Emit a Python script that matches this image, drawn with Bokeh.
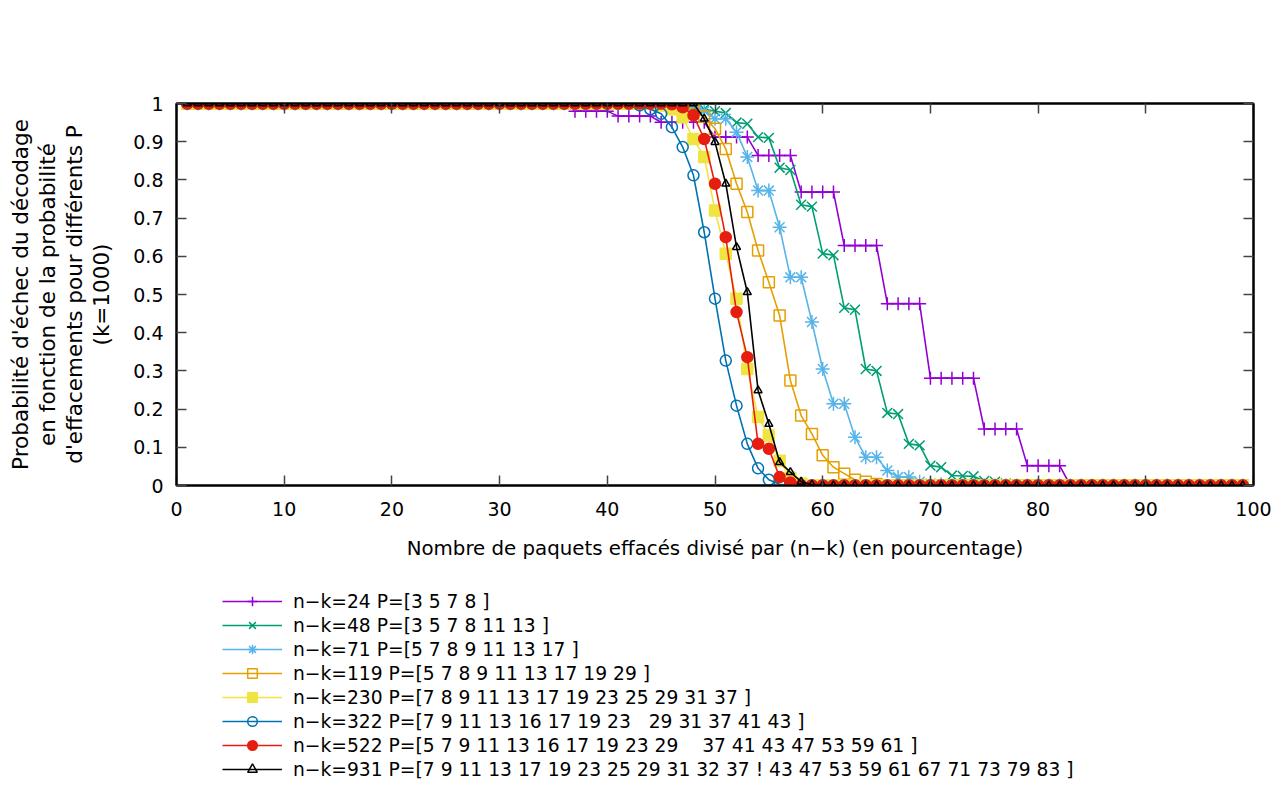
from bokeh.plotting import figure
from bokeh.layouts import column
from bokeh.models import Legend, LegendItem, LinearAxis, FixedTicker, Range1d
from bokeh.embed import file_html
from bokeh.resources import INLINE

# ---- data ----
x_pct = [1, 2, 3, 4, 5, 6, 7, 8, 9, 10, 11, 12, 13, 14, 15, 16, 17, 18, 19, 20,
         21, 22, 23, 24, 25, 26, 27, 28, 29, 30, 31, 32, 33, 34, 35, 36, 37, 38, 39, 40,
         41, 42, 43, 44, 45, 46, 47, 48, 49, 50, 51, 52, 53, 54, 55, 56, 57, 58, 59, 60,
         61, 62, 63, 64, 65, 66, 67, 68, 69, 70, 71, 72, 73, 74, 75, 76, 77, 78, 79, 80,
         81, 82, 83, 84, 85, 86, 87, 88, 89, 90, 91, 92, 93, 94, 95, 96, 97, 98, 99]

p_nk24 = [1, 1, 1, 1, 1, 1, 1, 1, 1, 1, 1, 1, 1, 1, 1, 1, 1, 1, 1, 1,
          1, 1, 1, 1, 1, 1, 1, 1, 1, 1, 1, 1, 1, 1, 1, 1, 0.98, 0.98, 0.98, 0.98,
          0.967, 0.967, 0.967, 0.967, 0.951, 0.951, 0.951, 0.951, 0.951, 0.912, 0.912, 0.912, 0.912, 0.864, 0.864, 0.864, 0.864, 0.768, 0.768, 0.768,
          0.768, 0.628, 0.628, 0.628, 0.628, 0.476, 0.476, 0.476, 0.476, 0.281, 0.281, 0.281, 0.281, 0.281, 0.148, 0.148, 0.148, 0.148, 0.052, 0.052,
          0.052, 0.052, 0, 0, 0, 0, 0, 0, 0, 0, 0, 0, 0, 0, 0, 0, 0, 0, 0]

p_nk48 = [1, 1, 1, 1, 1, 1, 1, 1, 1, 1, 1, 1, 1, 1, 1, 1, 1, 1, 1, 1,
          1, 1, 1, 1, 1, 1, 1, 1, 1, 1, 1, 1, 1, 1, 1, 1, 1, 1, 1, 1,
          1, 1, 1, 1, 1, 0.998, 0.995, 0.99, 0.985, 0.98, 0.975, 0.95, 0.947, 0.912, 0.91, 0.832, 0.826, 0.735, 0.73, 0.607,
          0.603, 0.465, 0.46, 0.305, 0.30, 0.19, 0.187, 0.109, 0.105, 0.052, 0.048, 0.026, 0.025, 0.024, 0.012, 0.01, 0.005, 0.003, 0.002, 0,
          0, 0, 0, 0, 0, 0, 0, 0, 0, 0, 0, 0, 0, 0, 0, 0, 0, 0, 0]

p_nk71 = [1, 1, 1, 1, 1, 1, 1, 1, 1, 1, 1, 1, 1, 1, 1, 1, 1, 1, 1, 1,
          1, 1, 1, 1, 1, 1, 1, 1, 1, 1, 1, 1, 1, 1, 1, 1, 1, 1, 1, 1,
          1, 1, 1, 1, 1, 1, 0.995, 0.995, 0.98, 0.96, 0.96, 0.925, 0.86, 0.772, 0.772, 0.676, 0.545, 0.545, 0.428, 0.305,
          0.214, 0.214, 0.126, 0.074, 0.074, 0.039, 0.022, 0.022, 0.01, 0.005, 0.003, 0, 0, 0, 0, 0, 0, 0, 0, 0,
          0, 0, 0, 0, 0, 0, 0, 0, 0, 0, 0, 0, 0, 0, 0, 0, 0, 0, 0]

p_nk119 = [1, 1, 1, 1, 1, 1, 1, 1, 1, 1, 1, 1, 1, 1, 1, 1, 1, 1, 1, 1,
           1, 1, 1, 1, 1, 1, 1, 1, 1, 1, 1, 1, 1, 1, 1, 1, 1, 1, 1, 1,
           1, 1, 1, 1, 1, 0.998, 0.995, 0.985, 0.965, 0.934, 0.881, 0.79, 0.716, 0.615, 0.532, 0.445, 0.275, 0.183, 0.135, 0.079,
           0.048, 0.031, 0.015, 0.01, 0.004, 0, 0, 0, 0, 0, 0, 0, 0, 0, 0, 0, 0, 0, 0, 0,
           0, 0, 0, 0, 0, 0, 0, 0, 0, 0, 0, 0, 0, 0, 0, 0, 0, 0, 0]

p_nk230 = [1, 1, 1, 1, 1, 1, 1, 1, 1, 1, 1, 1, 1, 1, 1, 1, 1, 1, 1, 1,
           1, 1, 1, 1, 1, 1, 1, 1, 1, 1, 1, 1, 1, 1, 1, 1, 1, 1, 1, 1,
           1, 1, 1, 1, 0.995, 0.985, 0.964, 0.907, 0.86, 0.72, 0.607, 0.489, 0.305, 0.179, 0.131, 0.065, 0.02, 0.005, 0, 0,
           0, 0, 0, 0, 0, 0, 0, 0, 0, 0, 0, 0, 0, 0, 0, 0, 0, 0, 0, 0,
           0, 0, 0, 0, 0, 0, 0, 0, 0, 0, 0, 0, 0, 0, 0, 0, 0, 0, 0]

p_nk322 = [1, 1, 1, 1, 1, 1, 1, 1, 1, 1, 1, 1, 1, 1, 1, 1, 1, 1, 1, 1,
           1, 1, 1, 1, 1, 1, 1, 1, 1, 1, 1, 1, 1, 1, 1, 1, 1, 1, 1, 1,
           1, 1, 0.995, 0.985, 0.973, 0.938, 0.886, 0.812, 0.663, 0.489, 0.327, 0.209, 0.109, 0.045, 0.015, 0.003, 0, 0, 0, 0,
           0, 0, 0, 0, 0, 0, 0, 0, 0, 0, 0, 0, 0, 0, 0, 0, 0, 0, 0, 0,
           0, 0, 0, 0, 0, 0, 0, 0, 0, 0, 0, 0, 0, 0, 0, 0, 0, 0, 0]

p_nk522 = [1, 1, 1, 1, 1, 1, 1, 1, 1, 1, 1, 1, 1, 1, 1, 1, 1, 1, 1, 1,
           1, 1, 1, 1, 1, 1, 1, 1, 1, 1, 1, 1, 1, 1, 1, 1, 1, 1, 1, 1,
           1, 1, 1, 1, 1, 0.998, 0.99, 0.969, 0.907, 0.79, 0.65, 0.454, 0.336, 0.109, 0.096, 0.022, 0.008, 0, 0, 0,
           0, 0, 0, 0, 0, 0, 0, 0, 0, 0, 0, 0, 0, 0, 0, 0, 0, 0, 0, 0,
           0, 0, 0, 0, 0, 0, 0, 0, 0, 0, 0, 0, 0, 0, 0, 0, 0, 0, 0]

p_nk931 = [1, 1, 1, 1, 1, 1, 1, 1, 1, 1, 1, 1, 1, 1, 1, 1, 1, 1, 1, 1,
           1, 1, 1, 1, 1, 1, 1, 1, 1, 1, 1, 1, 1, 1, 1, 1, 1, 1, 1, 1,
           1, 1, 1, 1, 1, 1, 1, 1, 0.96, 0.899, 0.79, 0.624, 0.506, 0.249, 0.161, 0.061, 0.035, 0.01, 0.002, 0,
           0, 0, 0, 0, 0, 0, 0, 0, 0, 0, 0, 0, 0, 0, 0, 0, 0, 0, 0, 0,
           0, 0, 0, 0, 0, 0, 0, 0, 0, 0, 0, 0, 0, 0, 0, 0, 0, 0, 0]

series_labels = [
    "n\u2212k=24 P=[3 5 7 8 ]",
    "n\u2212k=48 P=[3 5 7 8 11 13 ]",
    "n\u2212k=71 P=[5 7 8 9 11 13 17 ]",
    "n\u2212k=119 P=[5 7 8 9 11 13 17 19 29 ]",
    "n\u2212k=230 P=[7 8 9 11 13 17 19 23 25 29 31 37 ]",
    "n\u2212k=322 P=[7 9 11 13 16 17 19 23   29 31 37 41 43 ]",
    "n\u2212k=522 P=[5 7 9 11 13 16 17 19 23 29    37 41 43 47 53 59 61 ]",
    "n\u2212k=931 P=[7 9 11 13 17 19 23 25 29 31 32 37 ! 43 47 53 59 61 67 71 73 79 83 ]",
]

x_ticks = [0, 10, 20, 30, 40, 50, 60, 70, 80, 90, 100]
y_ticks = [0, 0.1, 0.2, 0.3, 0.4, 0.5, 0.6, 0.7, 0.8, 0.9, 1]
y_tick_labels = ["0", "0.1", "0.2", "0.3", "0.4", "0.5", "0.6", "0.7", "0.8", "0.9", "1"]

x_title = "Nombre de paquets effac\u00e9s divis\u00e9 par (n\u2212k) (en pourcentage)"
y_title = ("Probabilit\u00e9 d'\u00e9chec du d\u00e9codage\n"
           "en fonction de la probabilit\u00e9\n"
           "d'effacements pour diff\u00e9rents P\n"
           "(k=1000)")

# ---- styles ----
colors = ["#9400d3", "#009e73", "#56b4e9", "#e69f00", "#f0e442", "#0072b2", "#e51e10", "#000000"]
markers = ["cross", "x", "asterisk", "square", "square", "circle", "circle", "triangle"]
filled = [False, False, False, False, True, False, True, False]
sizes = [13, 14, 14, 11, 11, 11, 11, 8]

FONT = "DejaVu Sans"
TOTAL_W = 1283

# ---- main chart ----
p = figure(frame_width=1077, frame_height=382,
           x_range=Range1d(0, 100), y_range=Range1d(0, 1),
           output_backend="svg", toolbar_location=None,
           min_border_left=176, min_border_top=103, min_border_right=30,
           min_border_bottom=90)
p.xgrid.visible = False
p.ygrid.visible = False
p.outline_line_color = "black"
p.outline_line_width = 2
p.background_fill_color = "white"
p.border_fill_color = "white"

p.xaxis.ticker = FixedTicker(ticks=x_ticks)
p.yaxis.ticker = FixedTicker(ticks=y_ticks)
p.yaxis.major_label_overrides = {t: l for t, l in zip(y_ticks, y_tick_labels)}
p.xaxis.axis_label = x_title
p.yaxis.axis_label = y_title

for ax in (p.xaxis[0], p.yaxis[0]):
    ax.axis_line_color = "black"
    ax.axis_line_width = 2
    ax.major_tick_in = 10
    ax.major_tick_out = 0
    ax.minor_tick_in = 0
    ax.minor_tick_out = 0
    ax.major_tick_line_color = "#444444"
    ax.major_tick_line_width = 1.5
    ax.major_label_text_font = FONT
    ax.major_label_text_font_size = "19px"
    ax.major_label_text_color = "black"
    ax.axis_label_text_font = FONT
    ax.axis_label_text_font_style = "normal"
    ax.axis_label_text_color = "black"

p.xaxis.major_label_standoff = 16
p.yaxis.major_label_standoff = 13
p.xaxis.axis_label_text_font_size = "19.8px"
p.xaxis.axis_label_standoff = 18
p.yaxis.axis_label_text_font_size = "21.5px"
p.yaxis.axis_label_text_line_height = 1.08
p.yaxis.axis_label_standoff = 16

top_ax = LinearAxis(ticker=FixedTicker(ticks=x_ticks))
right_ax = LinearAxis(ticker=FixedTicker(ticks=y_ticks))
for ax in (top_ax, right_ax):
    ax.axis_line_color = "black"
    ax.axis_line_width = 2
    ax.major_tick_in = 10
    ax.major_tick_out = 0
    ax.minor_tick_in = 0
    ax.minor_tick_out = 0
    ax.major_tick_line_color = "#444444"
    ax.major_tick_line_width = 1.5
    ax.major_label_text_font_size = "10px"
    ax.major_label_text_color = None
    ax.major_label_standoff = 0
p.add_layout(top_ax, "above")
p.add_layout(right_ax, "right")

all_series = [p_nk24, p_nk48, p_nk71, p_nk119, p_nk230, p_nk322, p_nk522, p_nk931]
for i, ys in enumerate(all_series):
    c = colors[i]
    p.line(x_pct, ys, line_color=c, line_width=1.6)
    p.scatter(x_pct, ys, marker=markers[i], size=sizes[i],
              line_color=c, line_width=1.5,
              fill_color=c if filled[i] else None)

# ---- legend strip below the chart: same series, range set outside the data ----
q = figure(frame_width=TOTAL_W, frame_height=220,
           x_range=Range1d(200, 201), y_range=Range1d(5, 6),
           x_axis_type=None, y_axis_type=None,
           output_backend="svg", toolbar_location=None, min_border=0)
q.outline_line_color = None
q.background_fill_color = "white"
q.border_fill_color = "white"

items = []
for i, ys in enumerate(all_series):
    c = colors[i]
    lr = q.line(x_pct, ys, line_color=c, line_width=1.6)
    sr = q.scatter(x_pct, ys, marker=markers[i], size=sizes[i],
                   line_color=c, line_width=1.5,
                   fill_color=c if filled[i] else None)
    items.append(LegendItem(label=series_labels[i], renderers=[lr, sr]))

legend = Legend(items=items, location=(212, 4), orientation="vertical",
                border_line_alpha=0, background_fill_alpha=0,
                label_text_font=FONT, label_text_font_size="18.7px",
                label_text_color="black",
                glyph_width=60, glyph_height=24, label_height=24,
                spacing=0, padding=10, margin=0, label_standoff=11)
q.add_layout(legend, "center")

layout = column(p, q, spacing=0)
open("out.html", "w").write(file_html(layout, INLINE))
